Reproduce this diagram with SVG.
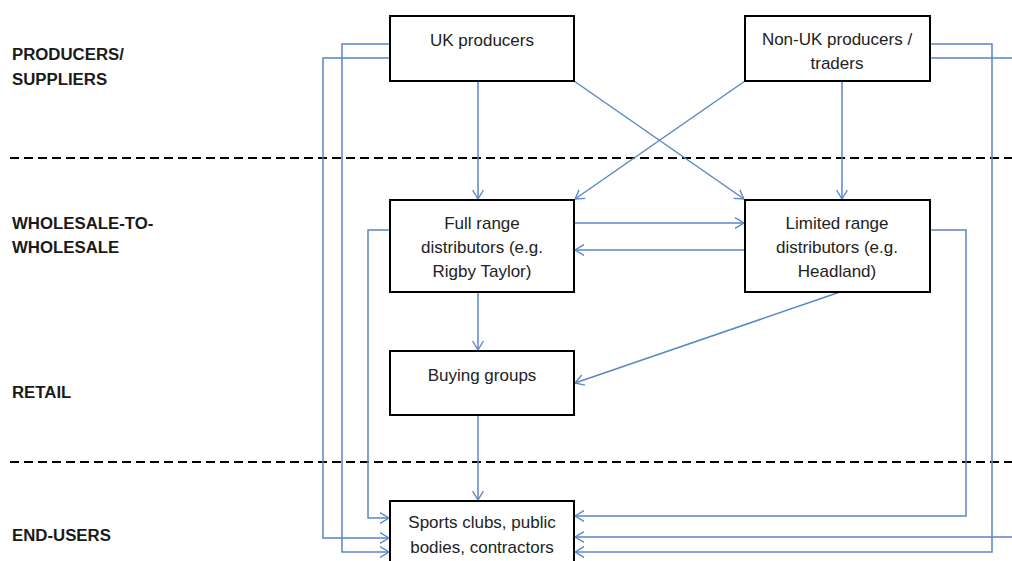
<svg xmlns="http://www.w3.org/2000/svg" width="1012" height="561" viewBox="0 0 1012 561">
<style>
.lbl{font-family:"Liberation Sans",Arial,sans-serif;font-weight:bold;font-size:16.8px;fill:#1a1a1a}
.txt{font-family:"Liberation Sans",Arial,sans-serif;font-size:17px;fill:#222;text-anchor:middle}
.box{fill:#fff;stroke:#000;stroke-width:2}
.con{fill:none;stroke:#5b87c5;stroke-width:1.5}
.dash{stroke:#000;stroke-width:2;stroke-dasharray:9,5}
</style>
<defs>
<marker id="arr" viewBox="0 0 10 12" refX="10" refY="6" markerWidth="9" markerHeight="12" markerUnits="userSpaceOnUse" orient="auto">
<path d="M0,0 L10,6 L0,12" fill="none" stroke="#5b87c5" stroke-width="1.5"/>
</marker>
</defs>
<rect width="1012" height="561" fill="#fff"/>
<g id="bands">
<line class="dash" x1="10" y1="158" x2="1012" y2="158"/>
<line class="dash" x1="10" y1="462" x2="1012" y2="462"/>
<text class="lbl" x="12" y="60">PRODUCERS/</text>
<text class="lbl" x="12" y="85">SUPPLIERS</text>
<text class="lbl" x="12" y="229">WHOLESALE-TO-</text>
<text class="lbl" x="12" y="253">WHOLESALE</text>
<text class="lbl" x="12" y="398">RETAIL</text>
<text class="lbl" x="12" y="541">END-USERS</text>
</g>
<g id="connectors">
<path class="con" d="M390,44 H342 V552 H389" marker-end="url(#arr)"/>
<path class="con" d="M390,58 H323 V538 H389" marker-end="url(#arr)"/>
<path class="con" d="M390,230 H368 V518 H389" marker-end="url(#arr)"/>
<path class="con" d="M930,230 H966 V516 H575" marker-end="url(#arr)"/>
<path class="con" d="M930,44 H992 V552 H575" marker-end="url(#arr)"/>
<path class="con" d="M930,58 H1030 V537 H575" marker-end="url(#arr)"/>
<path class="con" d="M478,81 V199" marker-end="url(#arr)"/>
<path class="con" d="M574,81 L744,199" marker-end="url(#arr)"/>
<path class="con" d="M745,81 L575,199" marker-end="url(#arr)"/>
<path class="con" d="M842,81 V199" marker-end="url(#arr)"/>
<path class="con" d="M574,223 H744" marker-end="url(#arr)"/>
<path class="con" d="M745,250 H575" marker-end="url(#arr)"/>
<path class="con" d="M478,292 V350" marker-end="url(#arr)"/>
<path class="con" d="M840,292 L575,383" marker-end="url(#arr)"/>
<path class="con" d="M478,415 V500" marker-end="url(#arr)"/>
</g>
<g id="uk">
<rect class="box" x="390" y="16" width="184" height="65"/>
<text class="txt" x="482" y="46">UK producers</text>
</g>
<g id="nonuk">
<rect class="box" x="745" y="16" width="185" height="65"/>
<text class="txt" x="837" y="45">Non-UK producers /</text>
<text class="txt" x="837" y="69">traders</text>
</g>
<g id="full">
<rect class="box" x="390" y="200" width="184" height="92"/>
<text class="txt" x="482" y="229">Full range</text>
<text class="txt" x="482" y="253">distributors (e.g.</text>
<text class="txt" x="482" y="277">Rigby Taylor)</text>
</g>
<g id="limited">
<rect class="box" x="745" y="200" width="185" height="92"/>
<text class="txt" x="837" y="229">Limited range</text>
<text class="txt" x="837" y="253">distributors (e.g.</text>
<text class="txt" x="837" y="277">Headland)</text>
</g>
<g id="buying">
<rect class="box" x="390" y="351" width="184" height="64"/>
<text class="txt" x="482" y="381">Buying groups</text>
</g>
<g id="sports">
<rect class="box" x="390" y="501" width="184" height="80"/>
<text class="txt" x="482" y="528">Sports clubs, public</text>
<text class="txt" x="482" y="553">bodies, contractors</text>
</g>
</svg>
